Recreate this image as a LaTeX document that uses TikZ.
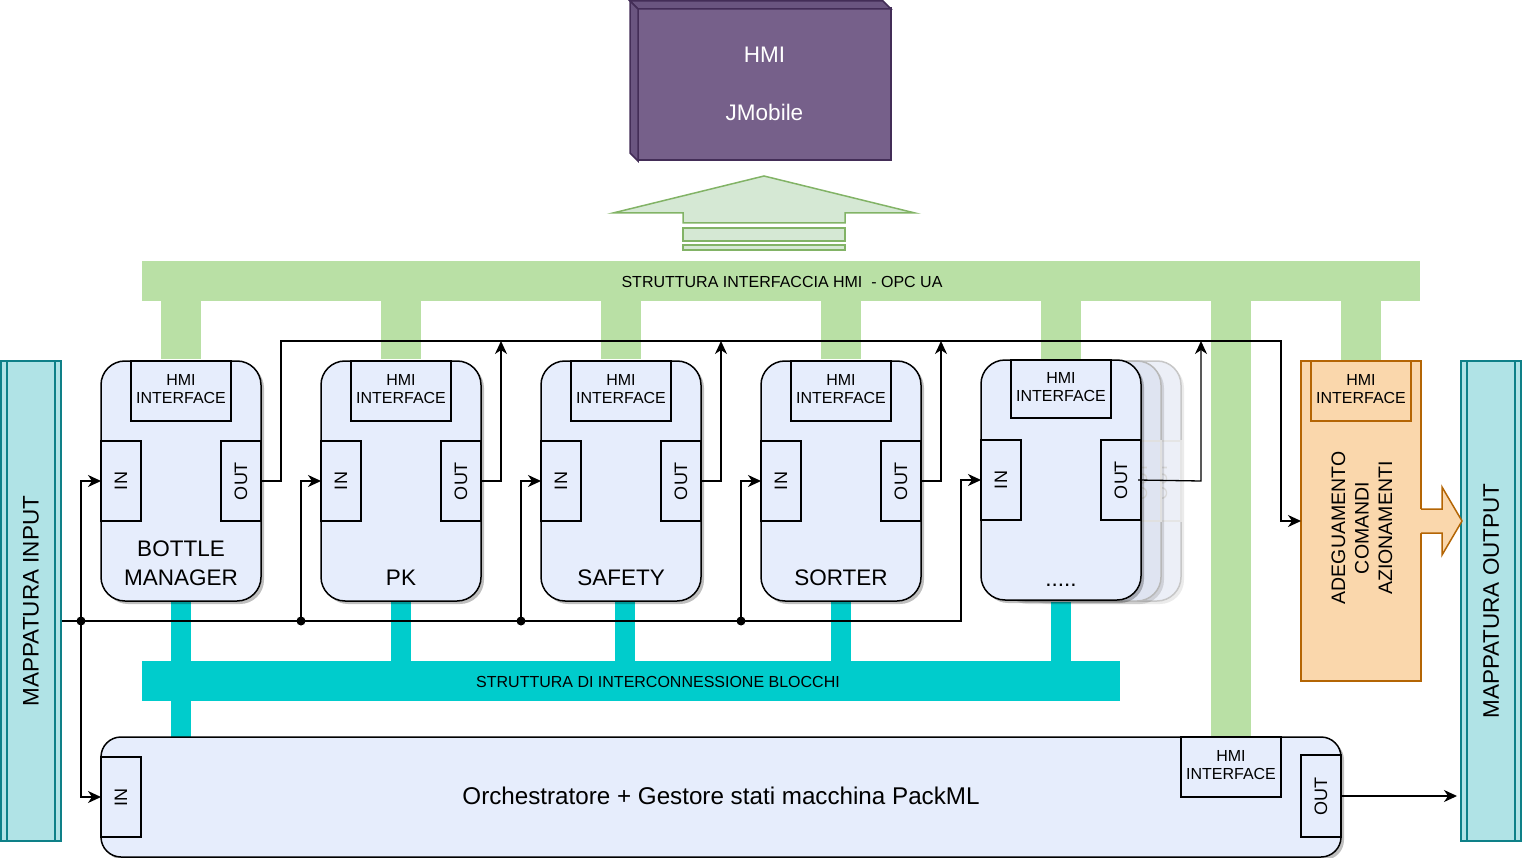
\documentclass[tikz,border=0pt]{standalone}
\usepackage{fontspec}
\setmainfont{Liberation Sans}
\usepackage{graphicx}
\usetikzlibrary{arrows.meta,shadows}
\definecolor{blkfill}{HTML}{E6EDFC}
\definecolor{ghostA}{HTML}{DFE4F1}
\definecolor{ghostB}{HTML}{ECEFF7}
\definecolor{greenbus}{HTML}{B9E0A5}
\definecolor{cyanbus}{HTML}{00CCCC}
\definecolor{mapfill}{HTML}{B0E3E6}
\definecolor{mapline}{HTML}{0E8088}
\definecolor{orfill}{HTML}{FAD7AC}
\definecolor{orline}{HTML}{B46504}
\definecolor{hmipurple}{HTML}{76608A}
\definecolor{hmidark}{HTML}{6A5580}
\definecolor{hmistroke}{HTML}{432D57}
\definecolor{arrfill}{HTML}{D5E8D4}
\definecolor{arrline}{HTML}{82B366}
\newcommand\fs[2]{\fontsize{#1}{#2}\selectfont}
\newcommand\twoline[2]{\raisebox{2pt}{\begin{tabular}{@{}c@{}}#1\\[-1pt]#2\end{tabular}}}
\tikzset{
  conn/.style={draw=black, line width=1.3pt},
  arr/.style={-{Stealth[length=13pt,width=12pt,inset=4pt]}},
  blk/.style={draw=black, line width=1.5pt, fill=blkfill, rounded corners=24pt,
    minimum width=160, minimum height=240, inner sep=0pt, outer sep=0pt,
    drop shadow={shadow xshift=3pt, shadow yshift=-3pt, fill=black, opacity=0.25}},
  ghost/.style={line width=1.5pt, rounded corners=24pt, minimum width=160, minimum height=240,
    inner sep=0pt, outer sep=0pt},
  portbox/.style={draw=black, line width=1.5pt, fill=blkfill, minimum width=40, minimum height=80,
    inner sep=0pt, outer sep=0pt, font=\fs{18}{21}},
  hmibox/.style={draw=black, line width=1.5pt, fill=blkfill, minimum width=100, minimum height=60,
    inner sep=0pt, outer sep=0pt, align=center, font=\fs{16}{19}},
  lbl/.style={font=\fs{22.5}{29}, align=center, inner sep=0pt},
  mapbox/.style={draw=mapline, fill=mapfill, line width=1.5pt, minimum width=60, minimum height=480,
    inner sep=0pt, outer sep=0pt, font=\fs{22.5}{27}},
  bustext/.style={font=\fs{16}{19}, inner sep=0pt},
}
\begin{document}
\begin{tikzpicture}[x=1pt,y=-1pt,line join=miter]
\useasboundingbox (0,0) rectangle (1522,858);

% ---------- HMI cube ----------
\node[fill=hmipurple, draw=hmistroke, line width=1.5pt, minimum width=253, minimum height=152,
  inner sep=0pt, outer sep=0pt, text=white, align=center, font=\fs{22.5}{58}] (hmi) at (764.5,84) {HMI\\JMobile};
\filldraw[fill=hmidark, draw=hmistroke, line width=1.5pt] (630,1) -- (883,1) -- (891,9) -- (638,9) -- cycle;
\filldraw[fill=hmidark, draw=hmistroke, line width=1.5pt] (630,1) -- (638,9) -- (638,161) -- (630,153) -- cycle;

% ---------- green up arrow ----------
\filldraw[fill=arrfill, draw=arrline, line width=1.5pt]
  (613,213) -- (764,176) -- (915,213) -- (845,213) -- (845,223) -- (683,223) -- (683,213) -- cycle;
\filldraw[fill=arrfill, draw=arrline, line width=1.5pt] (683,228) rectangle (845,241);
\filldraw[fill=arrfill, draw=arrline, line width=1.5pt] (683,245) rectangle (845,250);

% ---------- HMI bus ----------
\node[fill=greenbus, minimum width=1278, minimum height=40, inner sep=0pt, outer sep=0pt] (hmibus) at (781,281) {};
\node[bustext] (hmibustext) at (782,282) {STRUTTURA INTERFACCIA HMI\ \ - OPC UA};
\fill[greenbus] (161,301) rectangle (201,359);
\fill[greenbus] (381,301) rectangle (421,359);
\fill[greenbus] (601,301) rectangle (641,359);
\fill[greenbus] (821,301) rectangle (861,359);
\fill[greenbus] (1041,301) rectangle (1081,359);
\fill[greenbus] (1211,301) rectangle (1251,737);
\fill[greenbus] (1341,301) rectangle (1381,361);

% ---------- interconnection bus ----------
\node[fill=cyanbus, minimum width=978, minimum height=40, inner sep=0pt, outer sep=0pt] (cbus) at (631,681) {};
\node[bustext] (cbustext) at (658,682) {STRUTTURA DI INTERCONNESSIONE BLOCCHI};
\fill[cyanbus] (171,601) rectangle (191,737);
\fill[cyanbus] (391,601) rectangle (411,661);
\fill[cyanbus] (615,601) rectangle (635,661);
\fill[cyanbus] (831,601) rectangle (851,661);
\fill[cyanbus] (1051,601) rectangle (1071,661);

% ---------- mapping boxes ----------
\node[mapbox] (mi) at (31,601) {\rotatebox{90}{MAPPATURA INPUT}};
\draw[mapline, line width=1.5pt] (7,361) -- (7,841) (55,361) -- (55,841);
\node[mapbox] (mo) at (1491,601) {\rotatebox{90}{MAPPATURA OUTPUT}};
\draw[mapline, line width=1.5pt] (1467,361) -- (1467,841) (1515,361) -- (1515,841);

% ---------- blocks ----------
\foreach \nm/\cx in {bm/181, pk/401, sf/621, so/841}{
  \node[blk] (\nm) at (\cx,481) {};
  \node[hmibox, anchor=north] (\nm hmi) at (\cx,361) {\twoline{HMI}{INTERFACE}};
  \node[portbox, anchor=west] (\nm in) at (\nm.west) {\rotatebox{90}{IN}};
  \node[portbox, anchor=east] (\nm out) at (\nm.east) {\rotatebox{90}{OUT}};
}
\node[lbl] (bmlbl) at (181,563.5) {BOTTLE\\MANAGER};
\node[lbl] (pklbl) at (401,578) {PK};
\node[lbl] (sflbl) at (621,578) {SAFETY};
\node[lbl] (solbl) at (841,578) {SORTER};

% stacked block "....."
\node[ghost, draw=black!22, fill=ghostB, drop shadow={shadow xshift=3pt, shadow yshift=-3pt, fill=black, opacity=0.08}] (dg2) at (1101,481) {};
\node[draw=black!10, line width=1.5pt, minimum width=40, minimum height=80, inner sep=0pt, outer sep=0pt,
  text=black!15, font=\fs{18}{21}, anchor=east] (dg2out) at (dg2.east) {\rotatebox{90}{OUT}};
\node[ghost, draw=black!28, fill=ghostA, drop shadow={shadow xshift=3pt, shadow yshift=-3pt, fill=black, opacity=0.12}] (dg1) at (1081,481) {};
\node[draw=black!12, line width=1.5pt, minimum width=40, minimum height=80, inner sep=0pt, outer sep=0pt,
  text=black!18, font=\fs{18}{21}, anchor=east] (dg1out) at (dg1.east) {\rotatebox{90}{OUT}};
\node[blk] (dt) at (1061,480) {};
\node[hmibox, anchor=north, minimum height=58] (dthmi) at (1061,360) {\twoline{HMI}{INTERFACE}};
\node[portbox, anchor=west] (dtin) at (dt.west) {\rotatebox{90}{IN}};
\node[portbox, anchor=east] (dtout) at (dt.east) {\rotatebox{90}{OUT}};
\node[lbl, anchor=base] (dtlbl) at (1061,586) {.....};

% ---------- adeguamento ----------
\node[draw=orline, fill=orfill, line width=1.5pt, minimum width=120, minimum height=320,
  inner sep=0pt, outer sep=0pt] (adeg) at (1361,521) {};
\node[draw=orline, fill=orfill, line width=1.5pt, minimum width=100, minimum height=60,
  inner sep=0pt, outer sep=0pt, align=center, font=\fs{16}{19}] (adeghmi) at (1361,391) {\twoline{HMI}{INTERFACE}};
\node[rotate=90, align=center, font=\fs{19.5}{23.5}, inner sep=0pt] (adegtxt) at (1362,528)
  {ADEGUAMENTO\\COMANDI\\AZIONAMENTI};
\fill[orfill] (1419.5,509) -- (1442,509) -- (1442,487) -- (1462,521) -- (1442,555) -- (1442,533) -- (1419.5,533) -- cycle;
\draw[orline, line width=1.5pt] (1421,509) -- (1442,509) -- (1442,487) -- (1462,521) -- (1442,555) -- (1442,533) -- (1421,533);

% ---------- orchestrator ----------
\node[draw=black, line width=1.5pt, fill=blkfill, rounded corners=20pt, minimum width=1240, minimum height=120,
  inner sep=0pt, outer sep=0pt, font=\fs{24.2}{28},
  drop shadow={shadow xshift=3pt, shadow yshift=-3pt, fill=black, opacity=0.25}] (orch) at (721,797)
  {\raisebox{2pt}{Orchestratore + Gestore stati macchina PackML}};
\node[portbox, anchor=west] (orin) at (orch.west) {\rotatebox{90}{IN}};
\node[hmibox, anchor=north] (orhmi) at (1231,737) {\twoline{HMI}{INTERFACE}};
\node[portbox, anchor=east, minimum height=82] (orout) at (1341,796) {\rotatebox{90}{OUT}};

% ---------- connectors ----------
\coordinate (t1) at (501,341);
\coordinate (t2) at (721,341);
\coordinate (t3) at (941,341);
\coordinate (t4) at (1201,341);
\coordinate (inbus) at (62,621);
\coordinate (d1) at (81,621);
\coordinate (d2) at (301,621);
\coordinate (d3) at (521,621);
\coordinate (d4) at (741,621);

\draw[conn,arr] (bmout.east) -- (281,481) -- (281,341) -- (1281,341) -- (1281,521) -- (adeg.west);
\draw[conn,arr] (pkout.east) -- (501,481) -- (t1);
\draw[conn,arr] (sfout.east) -- (721,481) -- (t2);
\draw[conn,arr] (soout.east) -- (941,481) -- (t3);
\draw[conn,arr] ([xshift=-3pt]dtout.east) -- (1201,481) -- (t4);

\draw[conn,arr] (inbus) -- (961,621) -- (961,480) -- (dtin.west);
\draw[conn,arr] (d1) |- (bmin.west);
\draw[conn,arr] (d1) |- (orin.west);
\draw[conn,arr] (d2) |- (pkin.west);
\draw[conn,arr] (d3) |- (sfin.west);
\draw[conn,arr] (d4) |- (soin.west);
\foreach \d in {d1,d2,d3,d4} \fill (\d) circle[radius=4.5pt];

\draw[conn,arr,shorten >=4pt] (orout.east) -- (mo.west |- orout.east);
\end{tikzpicture}
\end{document}
